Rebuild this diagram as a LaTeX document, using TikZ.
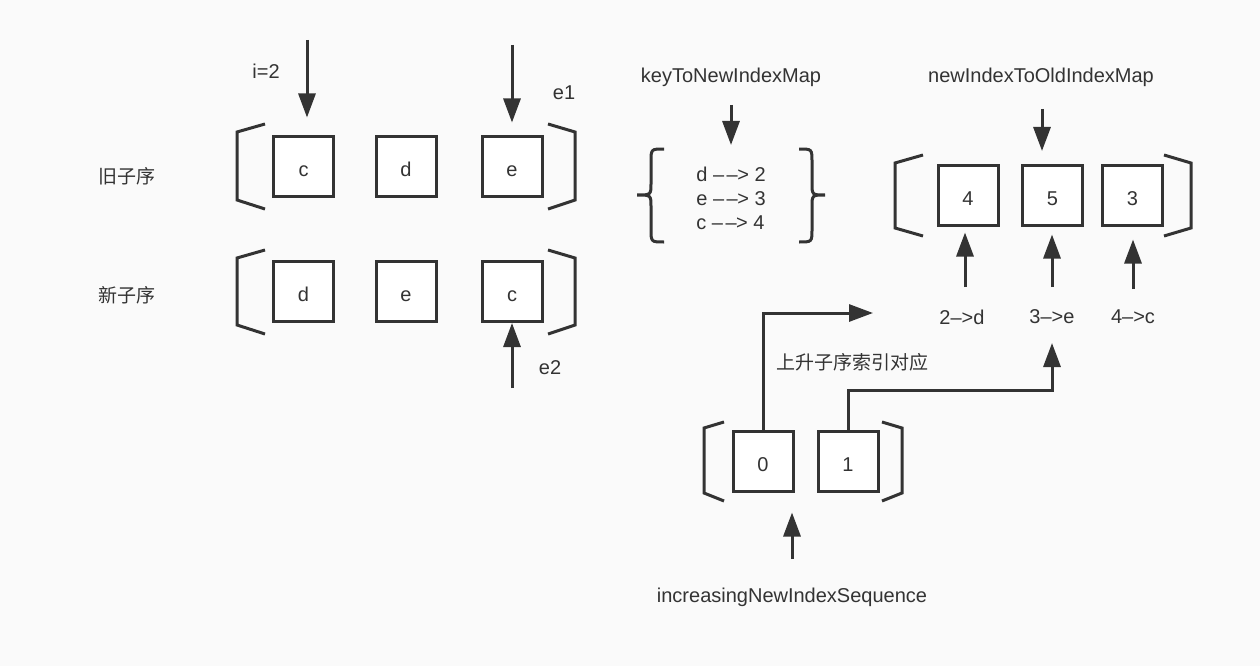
\documentclass[tikz,border=0pt]{standalone}
\usepackage{fontspec}
\setmainfont{Liberation Sans}
\newfontfamily\cjk{Noto Sans CJK SC}
\usetikzlibrary{arrows.meta}
\definecolor{ink}{HTML}{333333}
\definecolor{paper}{HTML}{FAFAFA}
\newcommand{\maparrow}{\textendash\kern2.5pt\textendash\kern-0.5pt>}
\begin{document}
\begin{tikzpicture}[x=1pt,y=-1pt,
    box/.style={draw=ink,line width=3pt,fill=white,minimum width=60pt,minimum height=60pt,inner sep=0pt,text height=20pt,text depth=0pt,text=ink,font=\fontsize{20}{24}\selectfont},
    lbl/.style={text=ink,inner sep=0pt,font=\fontsize{20}{24}\selectfont},
    zh/.style={text=ink,inner sep=0pt,font=\cjk\fontsize{19}{22}\selectfont},
    arr/.style={draw=ink,line width=3pt,-{Triangle[length=24pt,width=17pt]}},
    brk/.style={draw=ink,line width=3pt}]
    \fill[paper] (0,0) rectangle (1260,666);

    % old and new children
    \node[zh] (oldlbl) at (127,176) {旧子序};
    \node[zh] (newlbl) at (127,295) {新子序};
    \node[box] (oc) at (303.5,166) {c};
    \node[box] (od) at (406,166) {d};
    \node[box] (oe) at (512,166) {e};
    \node[box] (nd) at (303.5,291.5) {d};
    \node[box] (ne) at (406,291.5) {e};
    \node[box] (nc) at (512,291.5) {c};
    \draw[brk] (265,124) -- (237,132) -- (237,200) -- (265,209);
    \draw[brk] (548,124) -- (575,132) -- (575,200) -- (548,209);
    \draw[brk] (265,250) -- (237,258) -- (237,325) -- (265,334);
    \draw[brk] (548,250) -- (575,258) -- (575,325) -- (548,334);

    \node[lbl] (ilbl) at (266,71) {i=2};
    \node[lbl] (e1lbl) at (564,93) {e1};
    \node[lbl] (e2lbl) at (550,368) {e2};
    \coordinate (iTop) at (307,40);
    \coordinate (e1Top) at (512,45);
    \coordinate (e2Bot) at (512,388);
    \draw[arr,shorten >=17pt] (iTop) -- (iTop |- oc.north);
    \draw[arr,shorten >=12pt] (e1Top) -- (oe.north);
    \draw[arr] (e2Bot) -- (nc.south);

    % keyToNewIndexMap
    \node[lbl] (keymaplbl) at (731,77) {keyToNewIndexMap};
    \node[lbl,align=left] (keymap) at (731,198.5) {d \maparrow{} 2\\[0pt] e \maparrow{} 3\\[0pt] c \maparrow{} 4};
    \coordinate (kTop) at (731,105);
    \draw[arr] (kTop) -- (731,145);
    \draw[brk] (664,149) .. controls (651,149) .. (651,162) -- (651,183) .. controls (651,195) .. (637,195)
        .. controls (651,195) .. (651,207) -- (651,229) .. controls (651,242) .. (664,242);
    \draw[brk] (799,149) .. controls (812,149) .. (812,162) -- (812,183) .. controls (812,195) .. (825,195)
        .. controls (812,195) .. (812,207) -- (812,229) .. controls (812,242) .. (799,242);

    % newIndexToOldIndexMap
    \node[lbl] (idxmaplbl) at (1041,77) {newIndexToOldIndexMap};
    \node[box] (m4) at (968,195) {4};
    \node[box] (m5) at (1052.5,195) {5};
    \node[box] (m3) at (1132.5,195) {3};
    \draw[brk] (923,155) -- (895,163) -- (895,228) -- (923,236);
    \draw[brk] (1164,155) -- (1191,163) -- (1191,228) -- (1164,236);
    \coordinate (mTop) at (1042,109);
    \draw[arr] (mTop) -- (1042,151);

    \node[lbl] (to4) at (962,317) {2\textendash>d};
    \node[lbl] (to5) at (1052,317) {3\textendash>e};
    \node[lbl] (to3) at (1133,317) {4\textendash>c};
    \coordinate (to4Top) at (965,287);
    \coordinate (to5Top) at (1052,287);
    \coordinate (to3Top) at (1133,289);
    \draw[arr,shorten >=6pt] (to4Top) -- (to4Top |- m4.south);
    \draw[arr,shorten >=8pt] (to5Top) -- (to5Top |- m5.south);
    \draw[arr,shorten >=13pt] (to3Top) -- (to3Top |- m3.south);

    % increasingNewIndexSequence
    \node[box] (s0) at (763,461) {0};
    \node[box] (s1) at (848,461) {1};
    \draw[brk] (724,422) -- (704,428) -- (704,493) -- (724,501);
    \draw[brk] (882,422) -- (902,428) -- (902,493) -- (882,501);
    \node[lbl] (seqlbl) at (792,597) {increasingNewIndexSequence};
    \coordinate (seqBot) at (792,559);
    \draw[arr,shorten >=20pt] (seqBot) -- (seqBot |- s0.south);

    \node[zh] (matchlbl) at (852,362) {上升子序索引对应};
    \coordinate (dTip) at (873,313);
    \coordinate (eBend) at (1052,390);
    \coordinate (eTip) at (1052,343);
    \draw[arr] (s0.north) |- (dTip);
    \draw[arr] (s1.north) |- (eBend) -- (eTip);
\end{tikzpicture}
\end{document}
